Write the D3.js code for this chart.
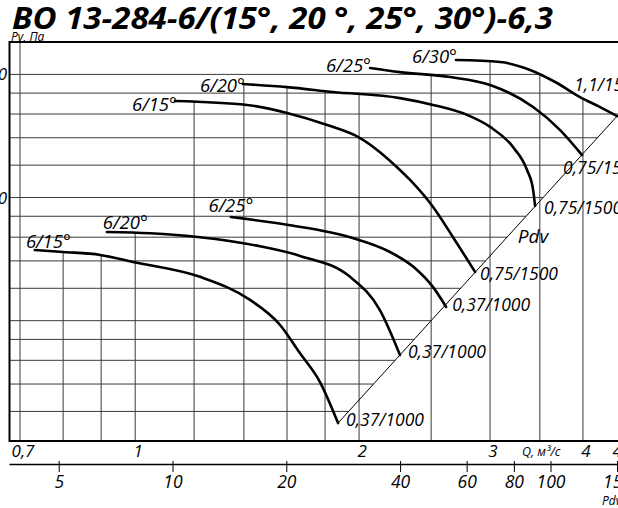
<!DOCTYPE html>
<html><head><meta charset="utf-8">
<script src="https://cdn.jsdelivr.net/npm/d3@7"></script>
<style>
body{margin:0;background:#fff}
svg{display:block}
text{font-family:"Open Sans",sans-serif;font-style:italic;fill:#000}
</style>
</head><body><svg id="c" width="618" height="508"></svg>
<script>
// ---------- data ----------
const titleText = "ВО 13-284-6/(15°, 20 °, 25°, 30°)-6,3";
const yAxisTitle = "Pv, Па";
const qAxisTitle = "Q, м³/с";
const pdvAxisTitle = "Pdv";

const qGrid = [0.7,0.8,0.9,1,1.2,1.4,1.6,1.8,2,2.5,3,3.5,4,4.5];
const qTicks = [0.7,1,2,3,4,4.5];
const qTickLabels = ["0,7","1","2","3","4","4,5"];
const pGrid = [1000,900,800,700,600,500,450,400,350,300,250,225,200,175,150];
const pTicks = [1000,500];
const pTickLabels = ["1000","500"];
const pdvTicks = [5,10,20,40,60,80,100,150];

// fan curves: Q (m3/s) and Pv (Pa)
const q15_1000 = [0.733,0.800,0.897,0.993,1.222,1.427,1.566,1.666,1.772,1.874];
const p15_1000 = [372,368,362,348,320,281,244,208,177,140.5];
const q20_1000 = [0.916,1.047,1.222,1.472,1.666,1.945,2.134,2.270];
const p20_1000 = [412,409,400,380,360,320,265,206];
const q25_1000 = [1.345,1.615,1.945,2.201,2.379,2.515,2.619];
const p25_1000 = [448,428,400,368,336,302,270];
const q15_1500 = [1.131,1.414,1.600,1.812,2.006,2.270,2.342,2.515,2.675,2.864];
const p15_1500 = [861,842,805,752,699,584,552,474,400,329];
const q20_1500 = [1.396,1.600,1.845,2.270,2.515,2.794,3.001,3.222,3.364,3.428,3.449];
const p20_1500 = [947,931,906,875,842,796,744,664,584,522,477];
const q25_1500 = [2.069,2.270,2.651,3.001,3.428,3.727,3.989];
const p25_1500 = [1037,1013,985,942,832,731,635];
const q30_1500 = [2.700,3.095,3.396,3.670,3.964,4.218,4.447];
const p30_1500 = [1084,1072,1025,958,880,832,791];

const startLabels = ["6/15°","6/20°","6/25°","6/15°","6/20°","6/25°","6/30°"];
const endLabels = ["0,37/1000","0,37/1000","0,37/1000","0,75/1500","0,75/1500","0,75/1500","1,1/1500"];

// dynamic pressure line
const pdvLineQ = [1.874, 4.5];
const pdvLineP = [140.5, 810];
const pdvLabelQ = 3.27, pdvLabelP = 387;

// ---------- layout ----------
const svg = d3.select("#c");
const W = 618, H = 508;
const frame = {left: 9.5, top: 42, bottom: 441};
const x = d3.scaleLog().domain([0.7, 4.5]).range([20, 621]);
const y = d3.scaleLog().domain([127, 1200]).range([frame.bottom, frame.top]);
const xPdv = d3.scaleLog().domain([10, 100]).range([173, 551]);

const curves = [
  {q:q15_1000,p:p15_1000,s:{a:"start",dx:-9,dy:-2},e:{dx:8,dy:3}},
  {q:q20_1000,p:p20_1000,s:{a:"start",dx:-4,dy:-3},e:{dx:8,dy:3}},
  {q:q25_1000,p:p25_1000,s:{a:"middle",dx:0,dy:-5},e:{dx:6,dy:4}},
  {q:q15_1500,p:p15_1500,s:{a:"end",dx:2,dy:10},e:{dx:5,dy:8}},
  {q:q20_1500,p:p20_1500,s:{a:"end",dx:2,dy:8},e:{dx:9,dy:8}},
  {q:q25_1500,p:p25_1500,s:{a:"end",dx:1,dy:4},e:{dx:-19,dy:19}},
  {q:q30_1500,p:p30_1500,s:{a:"end",dx:1,dy:3},e:{dx:-43,dy:-25}}
];
curves.forEach((c,i)=>{c.pts=c.q.map((q,j)=>({q,p:c.p[j]}));c.sl=startLabels[i];c.el=endLabels[i];});
const diag = pdvLineQ.map((q,i)=>({q,p:pdvLineP[i]}));

const L = Math.log;
function valAt(pts,q){
  if(q<pts[0].q||q>pts[pts.length-1].q) return null;
  for(let i=0;i<pts.length-1;i++){
    const a=pts[i],b=pts[i+1];
    if(q>=a.q&&q<=b.q){const t=(L(q)-L(a.q))/(L(b.q)-L(a.q));return Math.exp(L(a.p)+t*(L(b.p)-L(a.p)));}
  }
  return null;
}
function crossQ(pts,p){
  let best=null;
  for(let i=0;i<pts.length-1;i++){
    const a=pts[i],b=pts[i+1];
    if((p-a.p)*(p-b.p)<=0 && a.p!==b.p){
      const t=(L(p)-L(a.p))/(L(b.p)-L(a.p));
      const q=Math.exp(L(a.q)+t*(L(b.q)-L(a.q)));
      if(best===null||q>best) best=q;
    }
  }
  return best;
}

const grid = svg.append("g").attr("stroke","#3a3a3a").attr("stroke-width",1);
// vertical grid lines: from bottom up to the top-most curve
qGrid.forEach(q=>{
  let top=null;
  curves.forEach(c=>{const v=valAt(c.pts,q);if(v!==null&&(top===null||v>top))top=v;});
  grid.append("line").attr("x1",x(q)).attr("x2",x(q))
    .attr("y1",frame.bottom).attr("y2",top===null?frame.top:y(top));
});
// horizontal grid lines: from the left frame to the right-most curve / Pdv line
pGrid.forEach(p=>{
  let r=null;
  curves.concat([{pts:diag}]).forEach(c=>{const v=crossQ(c.pts,p);if(v!==null&&(r===null||v>r))r=v;});
  grid.append("line").attr("x1",frame.left).attr("x2",r===null?W:x(r))
    .attr("y1",y(p)).attr("y2",y(p));
});

// frame
svg.append("path").attr("d",`M${W+5},${frame.top}H${frame.left}V${frame.bottom}H${W+5}`)
  .attr("stroke","#000").attr("stroke-width",2).attr("fill","none");

// Pdv diagonal
svg.append("path").datum(diag)
  .attr("d",d3.line().x(d=>x(d.q)).y(d=>y(d.p)))
  .attr("stroke","#000").attr("stroke-width",1).attr("fill","none");

// curves
const line = d3.line().x(d=>x(d.q)).y(d=>y(d.p)).curve(d3.curveMonotoneX);
svg.append("g").selectAll("path").data(curves).join("path")
  .attr("d",c=>line(c.pts)).attr("fill","none").attr("stroke","#000")
  .attr("stroke-width",2.6).attr("stroke-linecap","round");

// curve labels
const lab = svg.append("g");
curves.forEach(c=>{
  const s=c.pts[0], e=c.pts[c.pts.length-1];
  lab.append("text").attr("x",x(s.q)+c.s.dx).attr("y",y(s.p)+c.s.dy).attr("font-size",18.5)
    .attr("text-anchor",c.s.a).text(c.sl);
  lab.append("text").attr("x",x(e.q)+c.e.dx).attr("y",y(e.p)+c.e.dy).attr("font-size",17.5).text(c.el);
});
lab.append("text").attr("x",x(pdvLabelQ)).attr("y",y(pdvLabelP)).attr("font-size",19).text("Pdv");

// title
svg.append("text").attr("x",12).attr("y",29).attr("font-size",31).attr("font-weight",700)
  .attr("textLength",541).attr("lengthAdjust","spacingAndGlyphs").text(titleText);
svg.append("text").attr("x",11).attr("y",40.5).attr("font-size",12).text(yAxisTitle);

// y tick labels (cut at the left edge)
svg.append("g").attr("font-size",17).selectAll("text").data(pTicks).join("text")
  .attr("x",7).attr("y",d=>y(d)+6).attr("text-anchor","end").text((d,i)=>pTickLabels[i]);

// Q axis labels
svg.append("g").attr("font-size",17).selectAll("text").data(qTicks).join("text")
  .attr("x",d=>x(d)+3).attr("y",457).attr("text-anchor","middle").text((d,i)=>qTickLabels[i]);
svg.append("text").attr("x",522).attr("y",456).attr("font-size",12.5).text(qAxisTitle);

// Pdv axis
const pa = svg.append("g");
pa.append("line").attr("x1",frame.left).attr("x2",W).attr("y1",464.5).attr("y2",464.5)
  .attr("stroke","#000").attr("stroke-width",1.5);
pa.selectAll("line.t").data(pdvTicks).join("line").attr("class","t")
  .attr("x1",d=>xPdv(d)).attr("x2",d=>xPdv(d)).attr("y1",461).attr("y2",472)
  .attr("stroke","#000").attr("stroke-width",1);
pa.selectAll("text").data(pdvTicks).join("text")
  .attr("x",d=>xPdv(d)).attr("y",488).attr("font-size",17.5).attr("text-anchor","middle").text(d=>d);
svg.append("text").attr("x",602).attr("y",505).attr("font-size",12).text(pdvAxisTitle);
</script>
</body></html>
